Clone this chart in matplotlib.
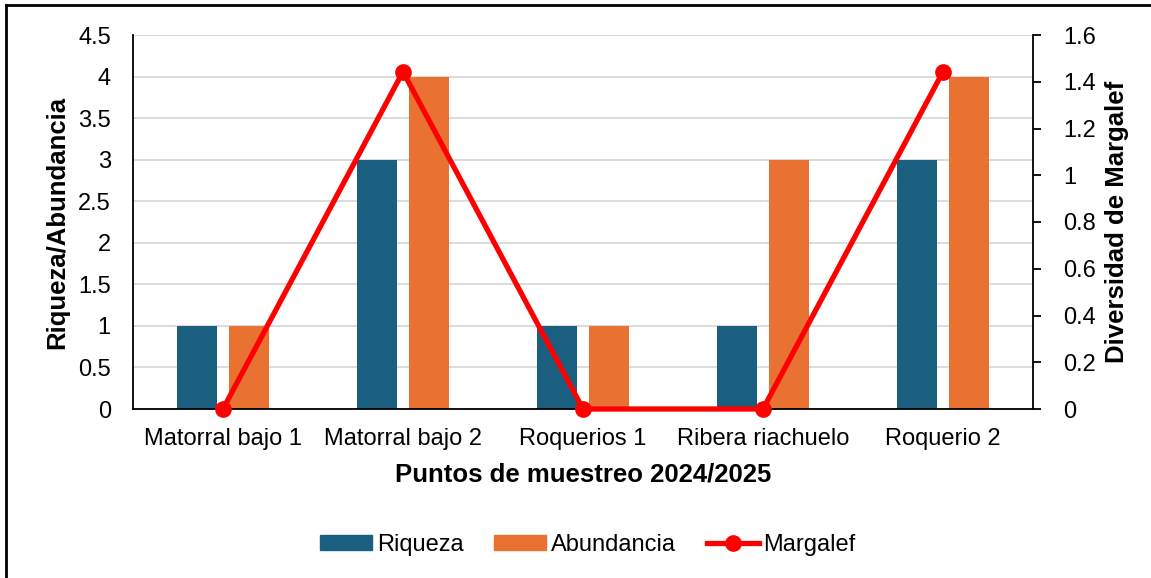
import matplotlib
matplotlib.use("Agg")
import matplotlib.pyplot as plt
import numpy as np
from matplotlib.lines import Line2D

plt.rcParams['font.family'] = ['Liberation Sans', 'DejaVu Sans']

categories = ["Matorral bajo 1", "Matorral bajo 2", "Roquerios 1", "Ribera riachuelo", "Roquerio 2"]
riqueza = [1, 3, 1, 1, 3]
abundancia = [1, 4, 1, 3, 4]
margalef = [0, 1.443, 0, 0, 1.443]
left_ticks = [0, 0.5, 1, 1.5, 2, 2.5, 3, 3.5, 4, 4.5]
left_labels = ["0", "0.5", "1", "1.5", "2", "2.5", "3", "3.5", "4", "4.5"]
right_ticks = [0, 0.2, 0.4, 0.6, 0.8, 1, 1.2, 1.4, 1.6]
right_labels = ["0", "0.2", "0.4", "0.6", "0.8", "1", "1.2", "1.4", "1.6"]

W, H = 1151, 578
fig = plt.figure(figsize=(W/100, H/100), dpi=100)
ax = fig.add_axes([133/W, 1-409/H, 900/W, 374/H])
x = np.arange(len(categories))
bw = 0.222
c_riq = "#1A5F80"
c_abu = "#E97132"
ax.bar(x - 0.145, riqueza, width=bw, color=c_riq, zorder=2)
ax.bar(x + 0.145, abundancia, width=bw, color=c_abu, zorder=2)
ax.set_xlim(-0.5, len(categories) - 0.5)
ax.set_ylim(0, 4.5)
ax.set_yticks(left_ticks)
ax.set_yticklabels(left_labels)
ax.yaxis.grid(True, color="#D9D9D9", linewidth=1.3, zorder=0)
ax.set_axisbelow(True)
ax.set_xticks(x)
ax.set_xticklabels(categories)
ax.tick_params(axis='both', length=0, labelsize=17, colors="black")
ax.tick_params(axis='x', pad=13.5)
ax.tick_params(axis='y', pad=16)
for s in ["top", "right"]:
    ax.spines[s].set_visible(False)
for s in ["left", "bottom"]:
    ax.spines[s].set_color("black")
    ax.spines[s].set_linewidth(1.3)
ax.set_ylabel("Riqueza/Abundancia", fontsize=18.5, fontweight="bold", labelpad=6)
ax.set_xlabel("Puntos de muestreo 2024/2025", fontsize=18.5, fontweight="bold", labelpad=9)

ax2 = ax.twinx()
ax2.plot(x, margalef, color="#FF0000", linewidth=3.8, marker="o", markersize=11, zorder=5, clip_on=False)
ax2.set_ylim(0, 1.6)
ax2.set_yticks(right_ticks)
ax2.set_yticklabels(right_labels)
ax2.tick_params(axis='y', direction='out', length=6, width=1.3, labelsize=17, pad=16)
for s in ["top", "left", "bottom"]:
    ax2.spines[s].set_visible(False)
ax2.spines["right"].set_color("black")
ax2.spines["right"].set_linewidth(1.3)
ax2.set_ylabel("Diversidad de Margalef", fontsize=18.5, fontweight="bold", labelpad=6)

handles = [
    plt.Rectangle((0, 0), 1, 1, color=c_riq),
    plt.Rectangle((0, 0), 1, 1, color=c_abu),
    Line2D([0], [0], color="#FF0000", linewidth=3.8, marker="o", markersize=11),
]
fig.legend(handles, ["Riqueza", "Abundancia", "Margalef"], loc="center",
           bbox_to_anchor=(588/W, 1-545/H), ncol=3, frameon=False, fontsize=17,
           handlelength=2.2, handleheight=0.6, columnspacing=1.3, handletextpad=0.2)

# outer border (top and left visible)
fig.add_artist(Line2D([6/W, 6/W], [0, 1-5/H], color="black", linewidth=2, transform=fig.transFigure))
fig.add_artist(Line2D([6/W, 1], [1-5/H, 1-5/H], color="black", linewidth=2, transform=fig.transFigure))

fig.savefig("out.png", dpi=100)
